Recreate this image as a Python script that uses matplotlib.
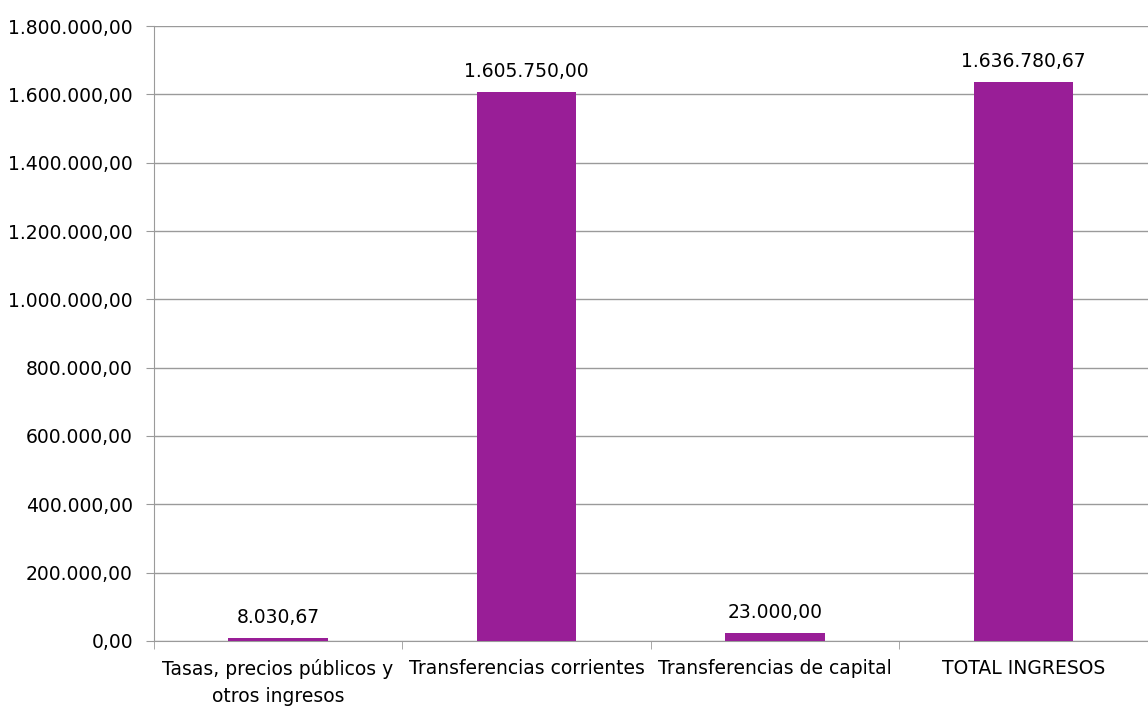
import matplotlib
matplotlib.use('Agg')
from matplotlib import pyplot as plt
from matplotlib.ticker import FuncFormatter, FixedLocator

categorias = ['Tasas, precios públicos y\notros ingresos', 'Transferencias corrientes',
              'Transferencias de capital', 'TOTAL INGRESOS']
importes = [8030.67, 1605750.00, 23000.00, 1636780.67]
yticks = [0, 200000, 400000, 600000, 800000, 1000000, 1200000, 1400000, 1600000, 1800000]

def fmt_es(v):
    s = '{:,.2f}'.format(v)
    return s.replace(',', 'X').replace('.', ',').replace('X', '.')

plt.rcParams['font.family'] = ['DejaVu Sans']
fig = plt.figure(figsize=(11.48, 7.07), dpi=100)
ax = fig.add_axes([0.134, 0.0934, 0.866, 0.8698])

x = list(range(len(categorias)))
ax.bar(x, importes, width=0.4, color='#991E97', zorder=3)
for xi, v in zip(x, importes):
    ax.annotate(fmt_es(v), (xi, v), xytext=(0, 8), textcoords='offset points',
                ha='center', va='bottom', fontsize=13.5, color='black')

ax.set_xlim(-0.5, len(categorias) - 0.5)
ax.set_ylim(0, 1800000)
ax.set_yticks(yticks)
ax.yaxis.set_major_formatter(FuncFormatter(lambda v, p: fmt_es(v)))
ax.set_xticks(x)
ax.set_xticklabels(categorias, fontsize=13.5, linespacing=1.5)
ax.xaxis.set_minor_locator(FixedLocator([i - 0.5 for i in range(len(categorias) + 1)]))
ax.tick_params(axis='x', which='major', length=0, pad=13)
ax.tick_params(axis='x', which='minor', length=6, color='#9a9a9a')
ax.tick_params(axis='y', length=6, color='#9a9a9a', labelsize=13.5, pad=9)
ax.grid(axis='y', color='#9a9a9a', linewidth=1, zorder=0)
for s in ['top', 'right']:
    ax.spines[s].set_visible(False)
for s in ['left', 'bottom']:
    ax.spines[s].set_color('#9a9a9a')

fig.savefig('out.png', dpi=100)
